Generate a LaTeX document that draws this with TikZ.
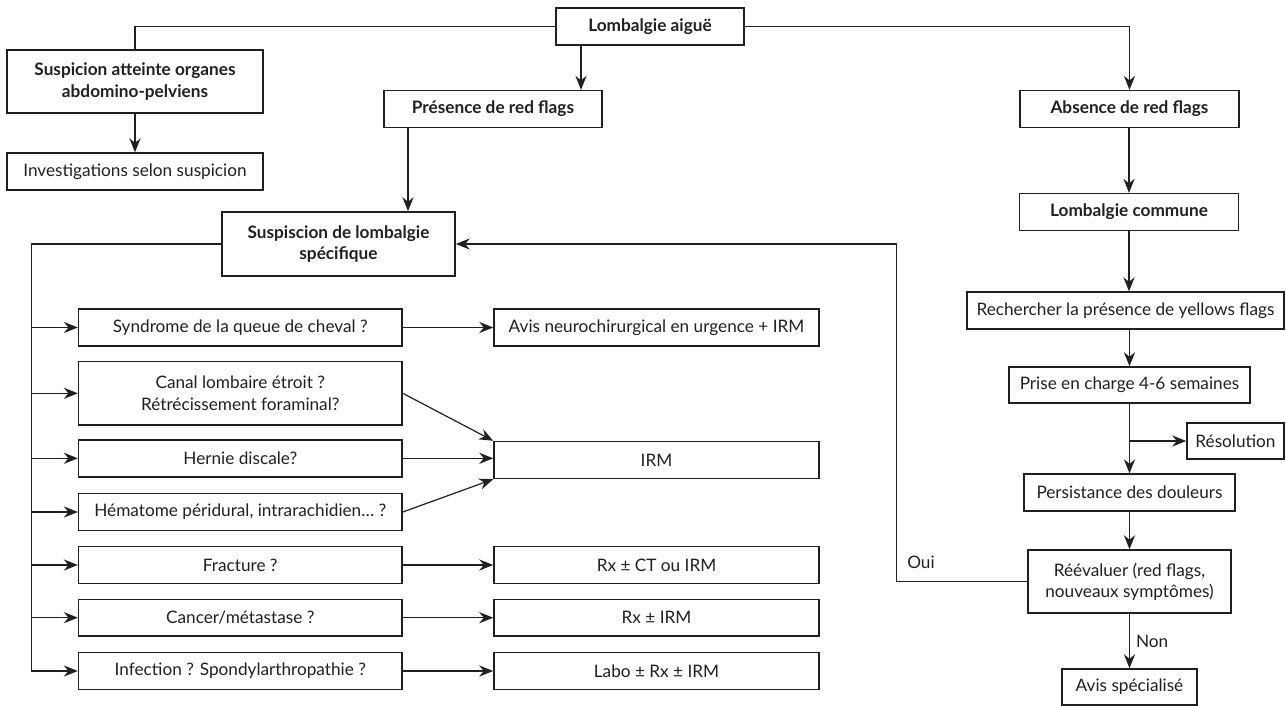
\documentclass[tikz,border=0pt]{standalone}
\usepackage{fontspec}
\setmainfont{Lato}
\usetikzlibrary{arrows.meta}
\definecolor{ink}{HTML}{231F20}
\tikzset{
	box/.style={draw=ink, line width=0.8pt, align=center, inner sep=2pt, minimum height=18.4pt, text=ink, font=\fontsize{8.6}{10.6}\selectfont},
	boldbox/.style={box, font=\fontsize{8.6}{10.8}\selectfont\bfseries},
	ln/.style={draw=ink, line width=0.6pt},
	arr/.style={ln, -{Stealth[length=7pt,width=5.6pt,inset=2.3pt]}},
	lbl/.style={text=ink, font=\fontsize{8.6}{10}\selectfont, inner sep=1pt}
}
\begin{document}
\begin{tikzpicture}[x=0.5pt,y=-0.5pt]
	\useasboundingbox (0,0) rectangle (1286,706);
	
	% Top level
	\node[boldbox, minimum width=94pt] (aigue) at (650,26.5) {Lombalgie aiguë};
	\node[boldbox, minimum width=128pt, minimum height=31.5pt] (organes) at (135,81.5) {Suspicion atteinte organes\\abdomino-pelviens};
	\node[box, minimum width=128pt] (invest) at (135,171.5) {Investigations selon suspicion};
	\node[boldbox, minimum width=109pt] (presence) at (493,109) {Présence de red flags};
	\node[boldbox, minimum width=109.5pt] (absence) at (1129.5,109) {Absence de red flags};
	
	% Specific branch
	\node[boldbox, minimum width=116.5pt, minimum height=32pt] (specif) at (338.5,244) {Suspiscion de lombalgie\\spécifique};
	
	% Questions (left column)
	\node[box, minimum width=161.7pt] (q1) at (240.3,327.5) {Syndrome de la queue de cheval ?};
	\node[box, minimum width=161.7pt, minimum height=31.7pt] (q2) at (240.3,393.3) {Canal lombaire étroit ?\\Rétrécissement foraminal?};
	\node[box, minimum width=161.7pt] (q3) at (240.3,458.3) {Hernie discale?};
	\node[box, minimum width=161.7pt] (q4) at (240.3,512) {Hématome péridural, intrarachidien… ?};
	\node[box, minimum width=161.7pt] (q5) at (240.3,565) {Fracture ?};
	\node[box, minimum width=161.7pt] (q6) at (240.3,617.7) {Cancer/métastase ?};
	\node[box, minimum width=161.7pt] (q7) at (240.3,671) {Infection ? Spondylarthropathie ?};
	
	% Investigations (right column)
	\node[box, minimum width=162.5pt] (r1) at (656.5,327.5) {Avis neurochirurgical en urgence + IRM};
	\node[box, minimum width=162.5pt] (r3) at (656.5,460) {IRM};
	\node[box, minimum width=162.5pt] (r5) at (656.5,565) {Rx ± CT ou IRM};
	\node[box, minimum width=162.5pt] (r6) at (656.5,617.7) {Rx ± IRM};
	\node[box, minimum width=162.5pt] (r7) at (656.5,671) {Labo ± Rx ± IRM};
	
	% Common branch
	\node[boldbox, minimum width=109.5pt] (commune) at (1129,212) {Lombalgie commune};
	\node[box, minimum width=158.5pt] (yellow) at (1125.5,310.5) {Rechercher la présence de yellows flags};
	\node[box, minimum width=120.5pt, minimum height=18pt] (prise) at (1129.5,385) {Prise en charge 4-6 semaines};
	\node[box, minimum width=48.5pt, minimum height=18pt] (resol) at (1235.5,441) {Résolution};
	\node[box, minimum width=105.5pt] (persist) at (1129.5,492.5) {Persistance des douleurs};
	\node[box, minimum width=101.5pt, minimum height=31.5pt] (reeval) at (1129.5,581.5) {Réévaluer (red flags,\\nouveaux symptômes)};
	\node[box, minimum width=67.5pt, minimum height=18pt] (avis) at (1129.5,687) {Avis spécialisé};
	
	% Helper coordinates
	\coordinate (c1) at (581,0);
	\coordinate (c2) at (408,0);
	\coordinate (spine) at (31.4,0);
	\coordinate (fb) at (896.7,0);
	
	% Top connectors
	\draw[ln] (aigue.west) -| (organes.north);
	\draw[arr] (aigue.east) -| (absence.north);
	\draw[arr] (aigue.south -| c1) -- (presence.north -| c1);
	\draw[arr] (organes.south) -- (invest.north);
	\draw[arr] (presence.south -| c2) -- (specif.north -| c2);
	
	% Spine to questions
	\draw[ln] (specif.west) -- (specif.west -| spine) -- (q7.west -| spine);
	\draw[arr] (q1.west -| spine) -- (q1.west);
	\draw[arr] (q2.west -| spine) -- (q2.west);
	\draw[arr] (q3.west -| spine) -- (q3.west);
	\draw[arr] (q4.west -| spine) -- (q4.west);
	\draw[arr] (q5.west -| spine) -- (q5.west);
	\draw[arr] (q6.west -| spine) -- (q6.west);
	\draw[arr] (q7.west -| spine) -- (q7.west);
	
	% Questions to investigations
	\draw[arr] (q1.east) -- (r1.west);
	\draw[arr] (q2.east) -- (r3.north west);
	\draw[arr] (q3.east) -- (q3.east -| r3.west);
	\draw[arr] (q4.east) -- (r3.south west);
	\draw[arr] (q5.east) -- (r5.west);
	\draw[arr] (q6.east) -- (r6.west);
	\draw[arr] (q7.east) -- (r7.west);
	
	% Common branch connectors
	\draw[arr] (absence.south -| commune.north) -- (commune.north);
	\draw[arr] (commune.south) -- (commune.south |- yellow.north);
	\draw[arr] (prise.south |- yellow.south) -- (prise.north);
	\draw[arr] (prise.south) -- (persist.north);
	\draw[arr] (prise.south |- resol.west) -- (resol.west);
	\draw[arr] (persist.south) -- (reeval.north);
	\draw[arr] (reeval.south) -- node[lbl, right, xshift=2pt] {Non} (avis.north);
	
	% Feedback loop
	\draw[arr] (reeval.west) -- (reeval.west -| fb) -- node[lbl, pos=0.05, right, xshift=4pt, yshift=1pt] {Oui} (specif.east -| fb) -- (specif.east);
\end{tikzpicture}
\end{document}
